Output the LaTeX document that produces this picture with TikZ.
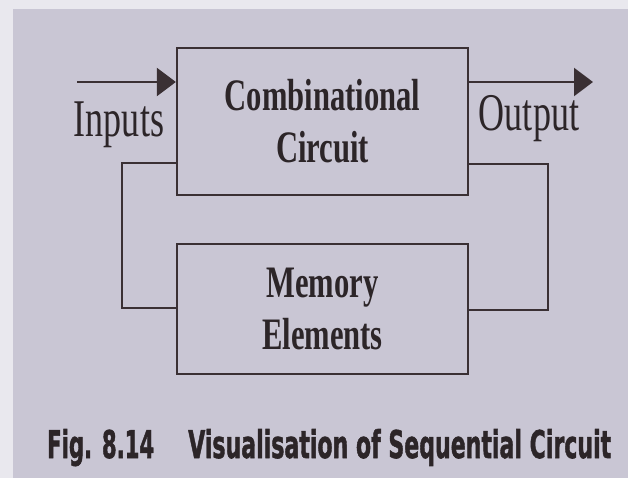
\documentclass[tikz,border=0pt]{standalone}
\usepackage{fontspec}
\usetikzlibrary{arrows.meta}
\newfontfamily\labelfont[FakeStretch=0.68]{Liberation Serif}
\newfontfamily\capfont[BoldFeatures={FakeBold=1.6}]{DejaVu Sans Condensed}
\definecolor{paper}{HTML}{C9C6D4}
\definecolor{paperedge}{HTML}{E9E8EE}
\definecolor{ink}{HTML}{3A3034}
\definecolor{textink}{HTML}{2C2528}
\tikzset{
  blockbox/.style={draw=ink, line width=2.3pt, minimum width=291pt, align=center,
    text=textink, font=\labelfont\bfseries\fontsize{45}{52}\selectfont, inner sep=0pt},
  wire/.style={draw=ink, line width=2.3pt},
  flow/.style={wire, -{Triangle[length=19pt,width=28pt]}},
  iolabel/.style={anchor=base, text=textink, inner sep=0pt,
    font=\labelfont\fontsize{53}{60}\selectfont},
  captext/.style={anchor=base west, text=textink, inner sep=0pt, font=\capfont\bfseries}
}
\begin{document}
\begin{tikzpicture}[x=1pt,y=-1pt]
  % page and paper
  \fill[paperedge] (0,0) rectangle (628,478);
  \fill[paper] (13,9) rectangle (628,478);
  \useasboundingbox (0,0) rectangle (628,478);

  % blocks
  \node[blockbox, minimum height=147pt] (comb) at (322.5,121.5) {Combinational\\Circuit};
  \node[blockbox, minimum height=130pt] (mem) at (322.5,309) {Memory\\Elements};

  % input and output
  \coordinate (inL) at (77,82);
  \coordinate (outR) at (593,82);
  \draw[flow] (inL) -- (inL -| comb.west);
  \draw[flow] (outR -| comb.east) -- (outR);
  \node[iolabel] (inlabel) at (119,137) {Inputs};
  \node[iolabel] (outlabel) at (529,131) {Output};

  % feedback loops
  \coordinate (rTop) at (548,164);
  \coordinate (rBot) at (548,310);
  \coordinate (lTop) at (122,163);
  \coordinate (lBot) at (122,308);
  \draw[wire] (rTop -| comb.east) -- (rTop) -- (rBot) -- (rBot -| mem.east);
  \draw[wire] (lBot -| mem.west) -- (lBot) -- (lTop) -- (lTop -| comb.west);

  % caption
  \node[captext] (fignum) at (47,458) {\resizebox{107pt}{29pt}{Fig. 8.14}};
  \node[captext] (figtitle) at (188,458) {\resizebox{423pt}{29pt}{Visualisation of Sequential Circuit}};
\end{tikzpicture}
\end{document}
